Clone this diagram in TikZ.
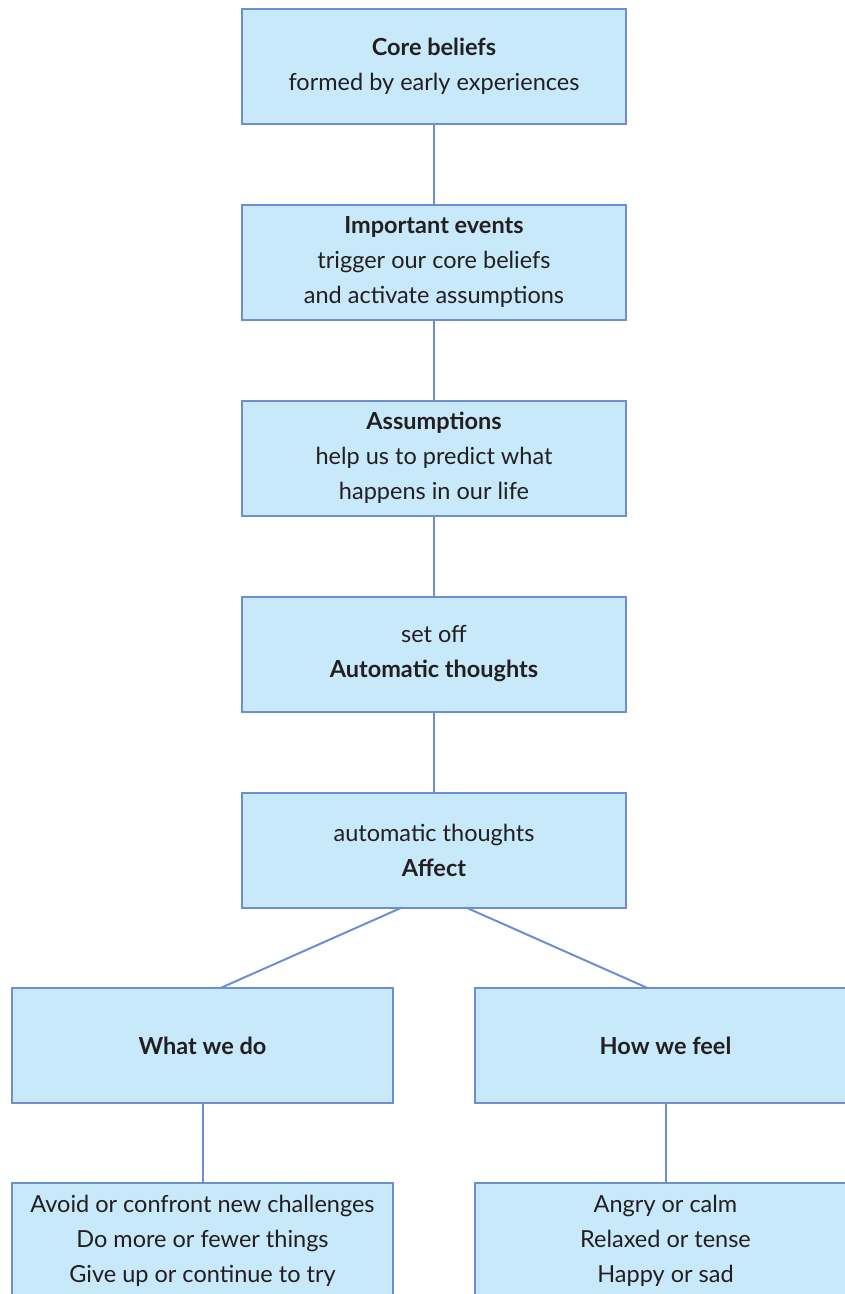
\documentclass[tikz,border=0pt]{standalone}
\usepackage{fontspec}
\setmainfont{Lato}
\usetikzlibrary{positioning, calc}
\definecolor{boxfill}{RGB}{199, 233, 250}
\definecolor{boxline}{RGB}{110, 143, 207}
\definecolor{inktext}{RGB}{35, 31, 32}

\begin{document}
\begin{tikzpicture}[
                x=1pt, y=1pt,
                node distance=81pt,
                box/.style={rectangle, draw=boxline, fill=boxfill, line width=2pt, outer sep=0pt, minimum width=384pt, minimum height=115pt, inner sep=0pt, align=center, text=inktext, font=\fontsize{23.5}{35}\selectfont},
                link/.style={draw=boxline, line width=2pt}
            ]
                \useasboundingbox (0,0) rectangle (845,-1294);
                \node [box] (core) at (434,-66) {\textbf{Core beliefs} \\ formed by early experiences};
                \node [box, below=of core] (events) {\textbf{Important events} \\ trigger our core beliefs \\ and activate assumptions};
                \node [box, below=of events] (assume) {\textbf{Assumptions} \\ help us to predict what \\ happens in our life};
                \node [box, below=of assume] (autothought) {set off \\ \textbf{Automatic thoughts}};
                \node [box, below=of autothought] (affect) {automatic thoughts \\ \textbf{Affect}};
                \node [box, minimum width=381pt] (whatdo) at (202.5,-1045.5) {\textbf{What we do}};
                \node [box, minimum width=381pt] (howfeel) at (665.5,-1045.5) {\textbf{How we feel}};
                \node [box, minimum width=381pt, below=80pt of whatdo] (doing) {Avoid or confront new challenges \\ Do more or fewer things \\ Give up or continue to try};
                \node [box, minimum width=381pt, below=80pt of howfeel] (feeling) {Angry or calm \\ Relaxed or tense \\ Happy or sad};
                
                \draw[link] (core) -- (events);
                \draw[link] (events) -- (assume);
                \draw[link] (assume) -- (autothought);
                \draw[link] (autothought) -- (affect);
                \draw[link] ([xshift=-32pt]affect.south) -- ([xshift=18pt]whatdo.north);
                \draw[link] ([xshift=32pt]affect.south) -- ([xshift=-18pt]howfeel.north);
                \draw[link] (whatdo) -- (doing);
                \draw[link] (howfeel) -- (feeling);
            \end{tikzpicture}
\end{document}
